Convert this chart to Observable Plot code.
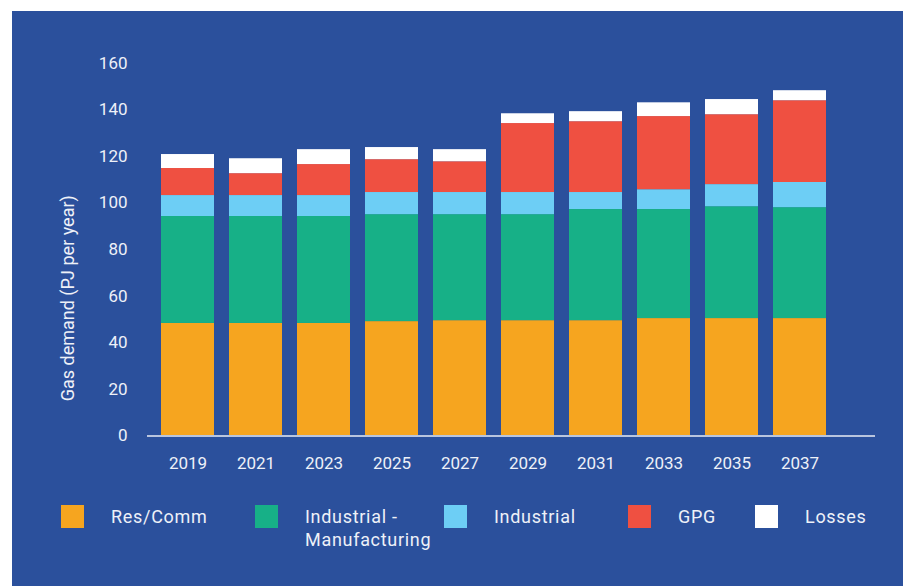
<!DOCTYPE html>
<html>
<head>
<meta charset="utf-8">
<script src="https://cdn.jsdelivr.net/npm/d3@7"></script>
<script src="https://cdn.jsdelivr.net/npm/@observablehq/plot@0.6"></script>
<style>
  html, body { margin: 0; padding: 0; background: #ffffff; }
  #page { position: relative; width: 903px; height: 586px; overflow: hidden; }
  #panel { position: absolute; left: 12px; top: 11px; width: 891px; height: 575px; background: #2B509C; }
  #chart { position: absolute; left: 0; top: 0; }
  #chart svg { background: transparent; }
  .lg { position: absolute; font-family: Roboto, "DejaVu Sans Condensed", sans-serif; font-size: 18px; color: #eef1f8; letter-spacing: 0.7px; line-height: 23px; }
  .sw { position: absolute; width: 23px; height: 23px; }
</style>
</head>
<body>
<div id="page">
  <div id="panel"></div>
  <div id="chart"></div>
  <div id="legend"></div>
</div>
<script>
const years = ["2019","2021","2023","2025","2027","2029","2031","2033","2035","2037"];
const seriesNames = ["Res/Comm", "Industrial - Manufacturing", "Industrial", "GPG", "Losses"];
const seriesColors = ["#F6A51F", "#17B087", "#6DCEF5", "#EF5041", "#FFFFFF"];
const resComm    = [48.3, 48.3, 48.3, 49.1, 49.5, 49.5, 49.5, 50.4, 50.4, 50.4];
const manuf      = [45.9, 45.9, 45.9, 45.9, 45.5, 45.5, 47.7, 46.8, 48.0, 47.6];
const industrial = [ 9.0,  9.0,  9.0,  9.5,  9.5,  9.5,  7.3,  8.5,  9.5, 10.8];
const gpg        = [11.6,  9.4, 13.3, 14.1, 13.2, 29.6, 30.4, 31.4, 30.0, 35.1];
const losses     = [ 6.0,  6.4,  6.4,  5.2,  5.2,  4.2,  4.3,  5.9,  6.5,  4.3];
const yTicks = [0, 20, 40, 60, 80, 100, 120, 140, 160];
const yTitle = "Gas demand (PJ per year)";

const seriesValues = [resComm, manuf, industrial, gpg, losses];
const rows = [];
seriesNames.forEach((s, si) => {
  years.forEach((yr, i) => rows.push({year: yr, series: s, value: seriesValues[si][i]}));
});

const font = `Roboto, "DejaVu Sans Condensed", sans-serif`;
const textColor = "#eef1f8";

const plot = Plot.plot({
  width: 903,
  height: 480,
  marginLeft: 147,
  marginRight: 28,
  marginTop: 20,
  marginBottom: 44.5,
  style: {background: "transparent", fontFamily: font, fontSize: "17px", color: textColor},
  x: {domain: years, range: [153.5, 833.5], paddingInner: 0.22, paddingOuter: 0.11, label: null},
  y: {domain: [0, 160], range: [435.5, 62.7], label: null},
  color: {domain: seriesNames, range: seriesColors},
  marks: [
    Plot.barY(rows, Plot.stackY({
      x: "year", y: "value", fill: "series", order: seriesNames
    })),
    Plot.ruleY([0], {stroke: "#B9C5DE", strokeWidth: 2}),
    Plot.axisY({ticks: yTicks, tickSize: 0, tickPadding: 20, label: null, fill: textColor, fontSize: 17, tickFormat: d => String(d)}),
    Plot.axisX({tickSize: 0, tickPadding: 21, label: null, fill: textColor, fontSize: 17}),
    Plot.text([yTitle], {
      frameAnchor: "left", textAnchor: "middle", rotate: -90, dx: -79, dy: 70,
      fill: textColor, fontSize: 18, text: d => d, style: "letter-spacing:0.9px"
    })
  ]
});
document.getElementById("chart").appendChild(plot);

// legend
const legend = document.getElementById("legend");
const swLeft = [61, 255, 444, 628, 755];
const legendLabels = ["Res/Comm", "Industrial -<br>Manufacturing", "Industrial", "GPG", "Losses"];
seriesNames.forEach((s, i) => {
  const sw = document.createElement("div");
  sw.className = "sw";
  sw.style.left = swLeft[i] + "px";
  sw.style.top = "505px";
  sw.style.background = seriesColors[i];
  legend.appendChild(sw);
  const lb = document.createElement("div");
  lb.className = "lg";
  lb.style.left = (swLeft[i] + 50) + "px";
  lb.style.top = "505px";
  lb.innerHTML = legendLabels[i];
  legend.appendChild(lb);
});
</script>
</body>
</html>
